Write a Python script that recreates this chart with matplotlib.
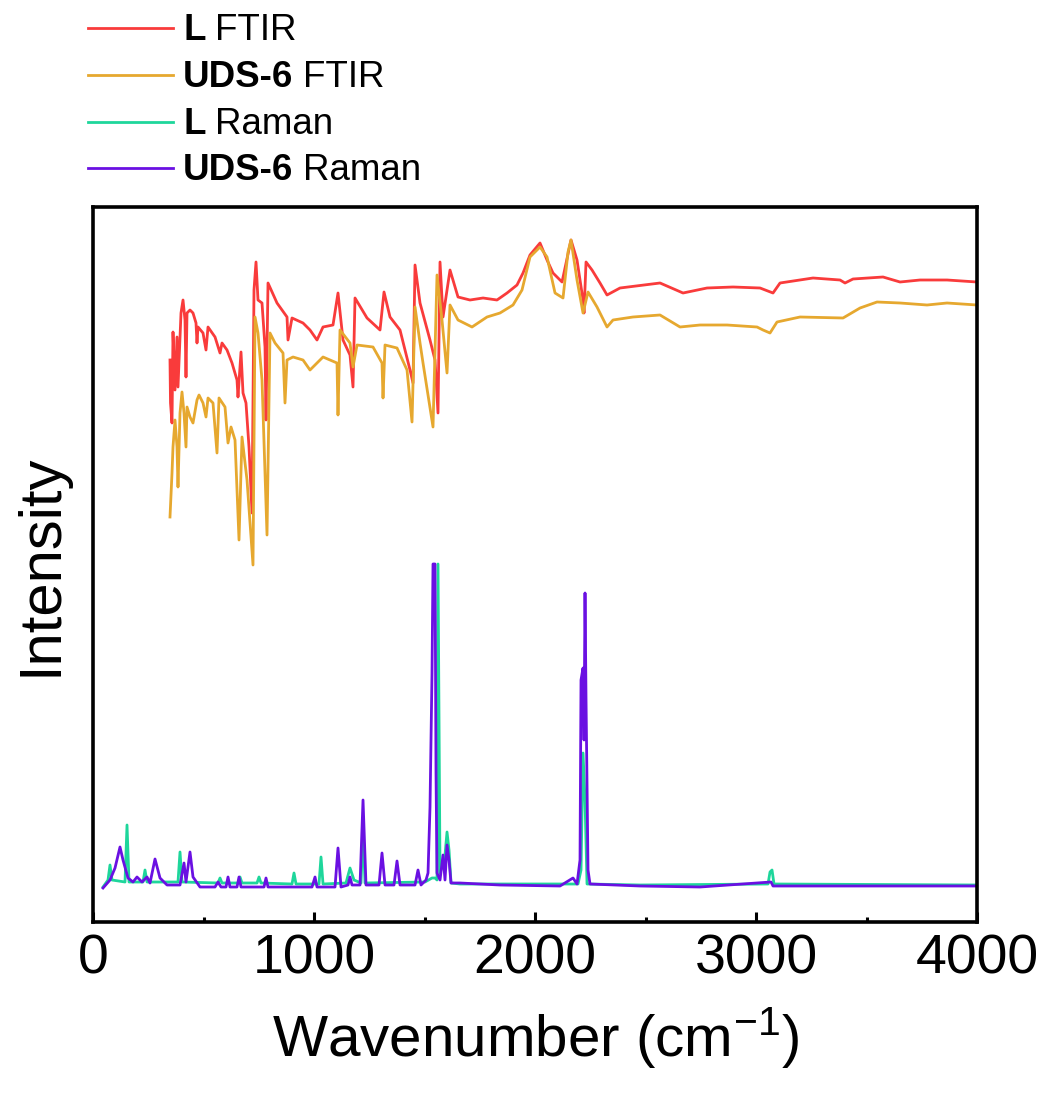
import numpy as np
import matplotlib
matplotlib.use("Agg")
import matplotlib.pyplot as plt
from matplotlib.lines import Line2D
from matplotlib.ticker import MultipleLocator

# === FONTS ===
plt.rcParams['font.family'] = ['Liberation Sans', 'DejaVu Sans']
plt.rcParams['mathtext.fontset'] = 'custom'
plt.rcParams['mathtext.rm'] = 'Liberation Sans'
plt.rcParams['mathtext.it'] = 'Liberation Sans:italic'
plt.rcParams['mathtext.bf'] = 'Liberation Sans:bold'

# === DATA (wavenumber in cm-1, intensity in a.u.) ===
l_ftir_wn = [348.4, 350.7, 357.5, 362.0, 371.1, 380.1, 384.6, 398.2, 407.3, 416.3,
             420.8, 425.4, 438.9, 452.5, 466.1, 470.6, 475.1, 497.8, 511.3, 520.4,
             552.1, 574.7, 583.7, 606.4, 629.0, 651.6, 656.1, 669.7, 678.8, 692.3,
             705.9, 719.5, 728.5, 737.6, 746.6, 764.7, 778.3, 782.8, 791.9, 832.6,
             877.9, 882.4, 900.5, 950.3, 981.9, 1013.6, 1040.8, 1086.0, 1108.6, 1131.3,
             1162.9, 1176.5, 1185.6, 1239.9, 1298.7, 1316.8, 1343.9, 1389.2, 1434.5, 1448.0,
             1457.1, 1479.7, 1524.9, 1547.6, 1561.1, 1570.2, 1583.8, 1615.4, 1651.6, 1705.9,
             1764.8, 1828.1, 1873.4, 1918.6, 1945.8, 1977.4, 2022.7, 2054.4, 2081.5, 2122.3,
             2162.9, 2190.1, 2217.3, 2221.8, 2230.9, 2258.0, 2294.2, 2325.9, 2384.7, 2565.7,
             2669.8, 2778.4, 2896.0, 3018.2, 3077.0, 3108.7, 3258.0, 3380.2, 3402.8, 3439.0,
             3574.8, 3651.7, 3742.2, 3864.4, 4000.0]
l_ftir_int = [56.2, 51.9, 49.9, 59.0, 53.2, 58.5, 53.5, 60.9, 62.2, 60.2,
              54.5, 60.9, 61.2, 60.9, 59.9, 57.9, 59.5, 58.9, 57.2, 59.5,
              58.5, 56.9, 57.9, 57.2, 55.9, 54.2, 52.5, 57.0, 52.9, 51.9,
              47.5, 40.9, 63.2, 66.0, 62.2, 61.9, 57.5, 50.2, 63.9, 61.9,
              60.5, 58.2, 60.4, 59.9, 59.2, 58.2, 59.5, 59.7, 62.9, 58.2,
              56.7, 53.5, 62.4, 60.4, 59.2, 63.0, 60.5, 59.2, 55.2, 53.9,
              65.7, 61.9, 58.2, 56.2, 50.9, 66.0, 60.5, 65.2, 62.5, 62.2,
              62.4, 62.2, 62.9, 63.7, 64.9, 66.7, 67.9, 66.2, 64.9, 64.0,
              68.2, 66.2, 62.2, 60.9, 66.0, 65.2, 63.9, 62.7, 63.4, 63.9,
              62.9, 63.4, 63.5, 63.4, 62.9, 63.9, 64.4, 64.2, 63.9, 64.3,
              64.5, 64.0, 64.2, 64.2, 64.0]

uds_ftir_wn = [348.4, 357.5, 362.0, 371.1, 380.1, 384.6, 393.7, 402.7, 411.8, 420.8,
               425.4, 438.9, 452.5, 470.6, 479.7, 497.8, 511.3, 520.4, 543.0, 561.1,
               570.2, 597.3, 610.9, 624.5, 642.6, 660.7, 674.2, 696.9, 724.0, 733.1,
               746.6, 764.7, 787.4, 800.9, 823.6, 859.8, 868.8, 877.9, 905.0, 950.3,
               981.9, 1040.8, 1104.1, 1108.6, 1117.7, 1162.9, 1176.5, 1194.6, 1267.0, 1307.7,
               1312.3, 1321.3, 1375.6, 1420.9, 1443.5, 1457.1, 1479.7, 1493.3, 1538.5, 1556.6,
               1579.2, 1601.9, 1615.4, 1651.6, 1715.0, 1782.9, 1841.7, 1900.5, 1941.2, 1977.4,
               2009.1, 2022.7, 2054.4, 2090.6, 2126.8, 2149.4, 2162.9, 2190.1, 2217.3, 2239.9,
               2280.6, 2325.9, 2353.0, 2443.5, 2565.7, 2656.2, 2746.7, 2868.9, 3004.6, 3031.8,
               3063.4, 3095.1, 3199.2, 3393.8, 3470.7, 3547.6, 3651.7, 3773.9, 3864.4, 4000.0]
uds_ftir_int = [40.5, 44.9, 47.5, 50.2, 47.5, 43.5, 50.9, 53.0, 50.9, 47.5,
                51.5, 50.5, 49.9, 52.2, 52.7, 51.9, 50.5, 52.4, 51.9, 46.9,
                52.4, 51.5, 47.9, 49.5, 48.2, 38.2, 48.5, 44.2, 35.7, 60.5,
                58.9, 54.2, 38.7, 58.9, 57.9, 56.9, 51.9, 56.2, 56.5, 56.2,
                55.2, 56.5, 55.9, 50.7, 59.2, 57.9, 55.5, 57.7, 57.5, 55.9,
                52.4, 57.7, 57.4, 55.2, 50.0, 61.5, 57.9, 55.9, 49.5, 64.7,
                60.2, 54.9, 61.7, 60.2, 59.5, 60.5, 60.9, 61.7, 63.2, 66.5,
                67.2, 67.5, 66.5, 62.9, 62.4, 67.0, 68.2, 64.2, 60.9, 63.0,
                61.5, 59.5, 60.2, 60.5, 60.7, 59.5, 59.7, 59.7, 59.5, 59.2,
                58.9, 60.0, 60.5, 60.4, 61.4, 62.0, 61.9, 61.7, 61.9, 61.7]

l_raman_wn = [45.3, 67.9, 76.9, 86.0, 144.8, 153.9, 162.9, 226.3, 235.3, 244.4,
              384.6, 393.7, 402.7, 565.6, 574.7, 583.7, 656.1, 665.2, 674.2, 742.1,
              751.2, 760.2, 900.5, 909.5, 918.6, 1022.6, 1031.7, 1040.8, 1144.8, 1162.9,
              1181.0, 1212.7, 1221.8, 1230.8, 1502.3, 1534.0, 1547.6, 1556.6, 1561.1, 1570.2,
              1592.8, 1601.9, 1610.9, 1620.0, 1660.7, 2194.6, 2208.2, 2217.3, 2226.3, 2235.4,
              2475.2, 3054.4, 3063.4, 3072.5, 3081.5, 4000.0]
l_raman_int = [3.5, 4.2, 5.7, 4.2, 4.0, 9.7, 4.0, 4.0, 5.2, 4.0,
               4.0, 7.0, 4.0, 3.9, 4.4, 3.9, 3.9, 4.5, 3.9, 3.9,
               4.5, 3.9, 3.8, 4.9, 3.8, 3.8, 6.5, 3.8, 3.9, 5.4,
               4.2, 3.9, 9.2, 3.9, 4.0, 4.4, 4.4, 4.2, 35.8, 4.9,
               6.7, 9.0, 7.2, 3.9, 3.8, 3.8, 5.2, 16.9, 12.2, 3.8,
               3.7, 3.8, 5.0, 5.2, 3.8, 3.7]

uds_raman_wn = [45.3, 76.9, 99.6, 122.2, 135.8, 158.4, 181.0, 199.1, 221.7, 244.4,
                257.9, 280.6, 303.2, 334.9, 393.7, 411.8, 420.8, 438.9, 452.5, 484.2,
                552.1, 565.6, 579.2, 601.8, 610.9, 619.9, 651.6, 660.7, 669.7, 773.8,
                782.8, 791.9, 991.0, 1004.6, 1013.6, 1095.1, 1108.6, 1122.2, 1153.9, 1162.9,
                1172.0, 1208.2, 1221.8, 1235.3, 1294.2, 1307.7, 1321.3, 1362.0, 1375.6, 1389.2,
                1457.1, 1470.6, 1484.2, 1506.8, 1515.9, 1524.9, 1534.0, 1538.5, 1547.6, 1552.1,
                1556.6, 1570.2, 1583.8, 1592.8, 1601.9, 1610.9, 1620.0, 1660.7, 1841.7, 2113.2,
                2172.0, 2190.1, 2203.7, 2208.2, 2217.3, 2221.8, 2226.3, 2230.9, 2239.9, 2248.9,
                2475.2, 2746.7, 3068.0, 3077.0, 3425.4, 4000.0]
uds_raman_int = [3.4, 4.2, 5.4, 7.5, 6.2, 4.4, 4.0, 4.5, 4.0, 4.5,
                 3.9, 6.3, 4.4, 3.7, 3.7, 5.9, 4.0, 7.0, 4.5, 3.5,
                 3.5, 4.0, 3.5, 3.5, 4.5, 3.5, 3.5, 4.5, 3.5, 3.5,
                 4.4, 3.5, 3.5, 4.5, 3.5, 3.5, 7.4, 3.5, 3.7, 4.5,
                 3.7, 3.7, 12.2, 3.7, 3.7, 6.9, 3.7, 3.7, 6.1, 3.7,
                 3.7, 5.2, 3.7, 4.2, 4.9, 11.5, 24.9, 35.8, 35.8, 14.9,
                 4.9, 4.2, 6.7, 4.2, 7.7, 6.2, 3.9, 3.9, 3.7, 3.6,
                 4.4, 3.8, 6.2, 24.2, 25.4, 18.2, 32.9, 22.2, 5.2, 3.8,
                 3.6, 3.5, 4.0, 3.6, 3.6, 3.6]

series = [
    ("L", "FTIR", l_ftir_wn, l_ftir_int, "#F93B3B"),
    ("UDS-6", "FTIR", uds_ftir_wn, uds_ftir_int, "#E6A82F"),
    ("L", "Raman", l_raman_wn, l_raman_int, "#1ED69B"),
    ("UDS-6", "Raman", uds_raman_wn, uds_raman_int, "#6A10E2"),
]

# === PLOT ===
W, H = 1048, 1103
fig = plt.figure(figsize=(W / 100, H / 100), dpi=100)
ax = fig.add_axes([93 / W, 1 - 922 / H, (977 - 93) / W, (922 - 207) / H])

for bold, regular, wn, inten, color in series:
    ax.plot(wn, inten, color=color, lw=2.0)

ax.set_xlim(0, 4000)
ax.set_ylim(0, 71.5)
ax.xaxis.set_major_locator(MultipleLocator(1000))
ax.xaxis.set_minor_locator(MultipleLocator(500))
ax.set_yticks([])
ax.tick_params(axis='x', which='major', direction='in', length=7, width=2.2,
               labelsize=40, pad=8, top=False)
ax.tick_params(axis='x', which='minor', direction='in', length=3.5, width=2.2, top=False)
for sp in ax.spines.values():
    sp.set_linewidth(2.6)

ax.set_xlabel("Wavenumber (cm$^{-1}$)", fontsize=42, labelpad=14)
ax.set_ylabel("Intensity", fontsize=43, labelpad=18)

# === LEGEND (drawn by hand: bold sample name + regular technique) ===
renderer = fig.canvas.get_renderer()
rows_y = [28, 75, 122, 168]
for (bold, regular, wn, inten, color), ry in zip(series, rows_y):
    fy = 1 - ry / H
    fig.add_artist(Line2D([88 / W, 173 / W], [fy, fy], color=color, lw=2.0,
                          transform=fig.transFigure))
    base = 1 - (ry + 12) / H
    tb = fig.text(183 / W, base, bold, fontsize=26.5, weight='bold', va='baseline')
    bb = tb.get_window_extent(renderer=renderer)
    fig.text((bb.x1 + 10) / W, base, regular, fontsize=26.5, va='baseline')

fig.savefig("out.png", dpi=100)
